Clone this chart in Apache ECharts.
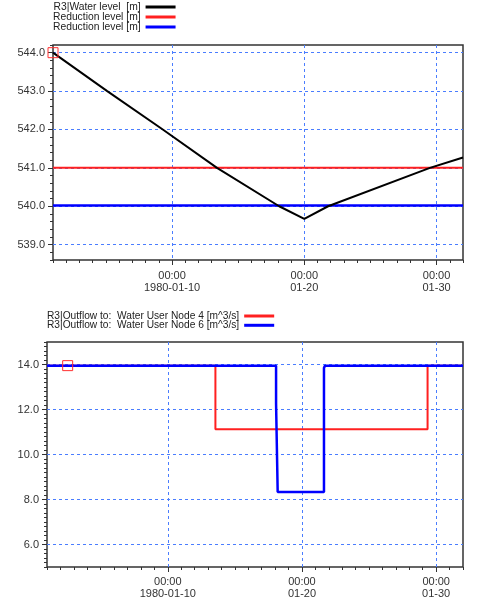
<!DOCTYPE html>
<html>
<head>
<meta charset="utf-8">
<style type="text/css">
  * { margin: 0; padding: 0; }
  #chart { width: 486px; height: 613px; background: #fff; }
</style>
<script type="text/javascript" src="https://cdn.jsdelivr.net/npm/echarts@6/dist/echarts.min.js"></script>
</head>
<body>
<div id="chart"></div>
<script type="text/javascript">
// x values: day number counted from 1979-12-31 (1 = 1980-01-01 00:00)
var majorDays = [10, 20, 30];
var majorLabels = ['00:00\n1980-01-10', '00:00\n01-20', '00:00\n01-30'];

// upper panel
var levelTicks = [539, 540, 541, 542, 543, 544];
var waterX = [1, 5.1, 9.3, 13.4, 18.1, 20, 21.8, 29.5, 32];
var waterY = [544.0, 543.0, 542.0, 541.0, 540.0, 539.67, 540.0, 541.0, 541.27];
var redLevelX = [1, 32];
var redLevelY = [541.0, 541.0];
var blueLevelX = [1, 32];
var blueLevelY = [540.02, 540.02];

// lower panel
var flowTicks = [6, 8, 10, 12, 14];
var node4X = [1, 13.55, 13.55, 29.36, 29.36, 32];
var node4Y = [13.95, 13.95, 11.12, 11.12, 13.95, 13.95];
var node6X = [1, 18.07, 18.07, 18.19, 18.19, 21.64, 21.64, 21.72, 32];
var node6Y = [13.95, 13.95, 12.27, 12.27, 8.33, 8.33, 13.85, 13.95, 13.95];

function pairs(xs, ys) {
    return xs.map(function (x, i) { return [x, ys[i]]; });
}

var labelNames = {
    'R3|Water level': 'R3|Water level  [m]',
    'Reduction level A': 'Reduction level [m]',
    'Reduction level B': 'Reduction level [m]'
};

var font = 'Liberation Sans';
var gridLine = { show: true, lineStyle: { color: '#4a7dff', type: [3, 3], width: 1 } };
var tickColor = '#333';

function xMain(gi) {
    return {
        type: 'value', gridIndex: gi, min: 1, max: 32, position: 'bottom',
        axisLine: { show: false },
        axisTick: { customValues: majorDays, length: 5, lineStyle: { color: tickColor } },
        axisLabel: {
            customValues: majorDays, color: '#333', fontFamily: font, fontSize: 11,
            lineHeight: 12, margin: gi === 0 ? 10 : 9,
            formatter: function (v) { return majorLabels[majorDays.indexOf(Math.round(v))] || ''; }
        },
        splitLine: gridLine
    };
}
function xMinor(gi) {
    return {
        type: 'value', gridIndex: gi, min: 1, max: 32, interval: 1, position: 'bottom',
        axisLine: { show: false },
        axisTick: { length: 3, lineStyle: { color: tickColor } },
        axisLabel: { show: false },
        splitLine: { show: false }
    };
}
function yMain(gi, min, max, ticks) {
    return {
        type: 'value', gridIndex: gi, min: min, max: max, position: 'left',
        axisLine: { show: false },
        axisTick: { customValues: ticks, length: 5, lineStyle: { color: tickColor } },
        axisLabel: {
            customValues: ticks, color: '#333', fontFamily: font, fontSize: 11, margin: 8,
            formatter: function (v) { return v.toFixed(1); }
        },
        splitLine: gridLine
    };
}
function yMinor(gi, min, max) {
    return {
        type: 'value', gridIndex: gi, min: min, max: max, interval: 0.2, position: 'left',
        axisLine: { show: false },
        axisTick: { length: 3, lineStyle: { color: tickColor } },
        axisLabel: { show: false },
        splitLine: { show: false }
    };
}

var cursor = {
    symbol: 'rect', symbolSize: 10, silent: true,
    itemStyle: { color: 'rgba(0,0,0,0)', borderColor: '#ff3030', borderWidth: 1 },
    label: { show: false }
};

var chart = echarts.init(document.getElementById('chart'));
var option = {
    animation: false,
    backgroundColor: '#fff',
    textStyle: { fontFamily: font },
    legend: [{
        data: ['R3|Water level', 'Reduction level A', 'Reduction level B'],
        orient: 'vertical', left: 53, top: 2, align: 'right', padding: 0,
        itemWidth: 30, itemHeight: 3, itemGap: 0, icon: 'rect', selectedMode: false,
        formatter: function (name) { return labelNames[name]; },
        textStyle: { color: '#222', fontSize: 10.3, lineHeight: 10 }
    }, {
        data: ['R3|Outflow to:  Water User Node 4 [m^3/s]', 'R3|Outflow to:  Water User Node 6 [m^3/s]'],
        orient: 'vertical', left: 47, top: 311, align: 'right', padding: 0,
        itemWidth: 30, itemHeight: 3, itemGap: -0.7, icon: 'rect', selectedMode: false,
        textStyle: { color: '#222', fontSize: 10.2, lineHeight: 10 }
    }],
    grid: [
        { left: 53, right: 23, top: 45, height: 215, show: true, borderColor: '#333', borderWidth: 1.5 },
        { left: 47, right: 23, top: 342, height: 225, show: true, borderColor: '#333', borderWidth: 1.5 }
    ],
    xAxis: [xMain(0), xMinor(0), xMain(1), xMinor(1)],
    yAxis: [
        yMain(0, 538.6, 544.2, levelTicks), yMinor(0, 538.6, 544.2),
        yMain(1, 5, 15, flowTicks), yMinor(1, 5, 15)
    ],
    series: [{
        name: 'Reduction level A', type: 'line', xAxisIndex: 0, yAxisIndex: 0,
        data: pairs(redLevelX, redLevelY), showSymbol: false,
        itemStyle: { color: '#ff2020' }, lineStyle: { color: '#ff2020', width: 2 }
    }, {
        name: 'Reduction level B', type: 'line', xAxisIndex: 0, yAxisIndex: 0,
        data: pairs(blueLevelX, blueLevelY), showSymbol: false,
        itemStyle: { color: '#0000ff' }, lineStyle: { color: '#0000ff', width: 2.5 }
    }, {
        name: 'R3|Water level', type: 'line', xAxisIndex: 0, yAxisIndex: 0,
        data: pairs(waterX, waterY), showSymbol: false,
        itemStyle: { color: '#000' }, lineStyle: { color: '#000', width: 2 },
        markPoint: Object.assign({ data: [{ coord: [waterX[0], waterY[0]] }] }, cursor)
    }, {
        name: 'R3|Outflow to:  Water User Node 4 [m^3/s]', type: 'line', xAxisIndex: 2, yAxisIndex: 2,
        data: pairs(node4X, node4Y), showSymbol: false,
        itemStyle: { color: '#ff2020' }, lineStyle: { color: '#ff2020', width: 2 }
    }, {
        name: 'R3|Outflow to:  Water User Node 6 [m^3/s]', type: 'line', xAxisIndex: 2, yAxisIndex: 2,
        data: pairs(node6X, node6Y), showSymbol: false,
        itemStyle: { color: '#0000ff' }, lineStyle: { color: '#0000ff', width: 2.5 },
        markPoint: Object.assign({ data: [{ coord: [2.54, 13.95] }] }, cursor)
    }]
};
chart.setOption(option);
</script>
</body>
</html>
